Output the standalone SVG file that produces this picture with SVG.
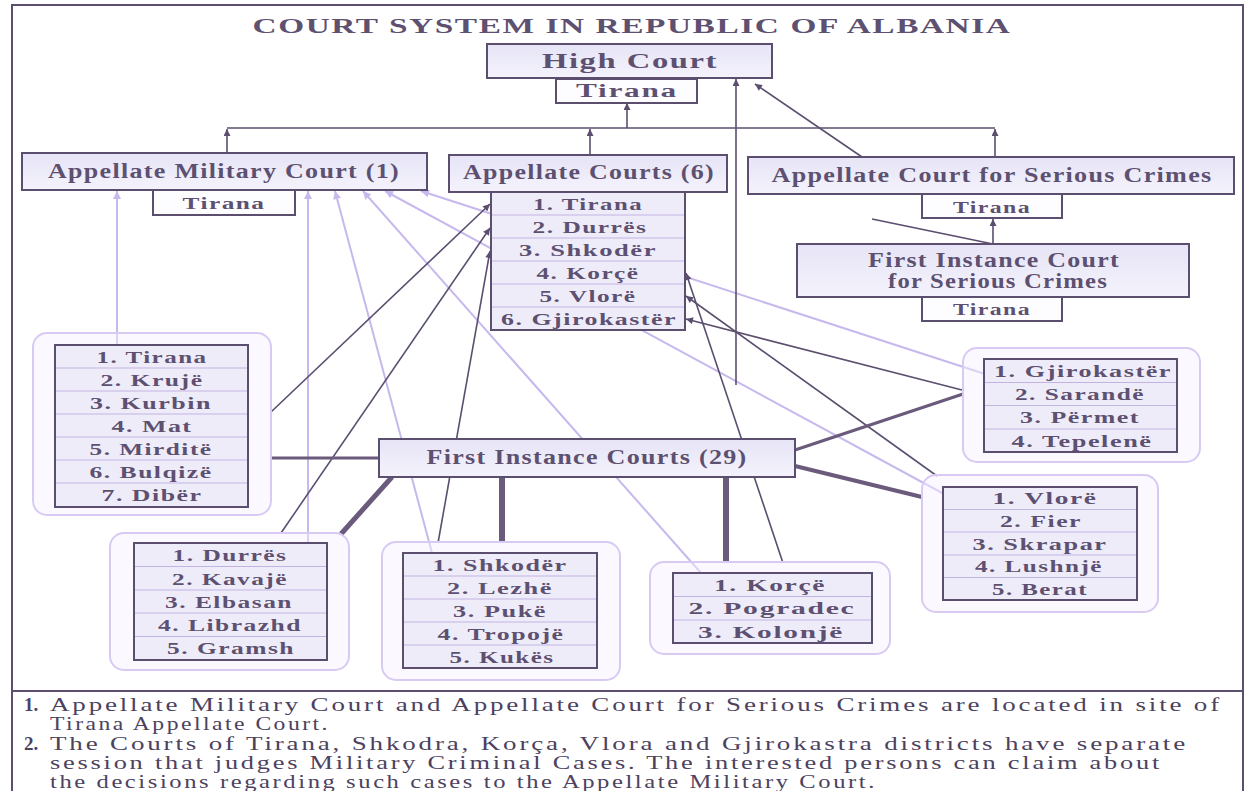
<svg xmlns="http://www.w3.org/2000/svg" width="1249" height="791" viewBox="0 0 1249 791">
<defs>
<style>
.box{fill:url(#bg);stroke:#5b4e6e;stroke-width:2}
.sub{fill:#fdfdff;stroke:#5b4e6e;stroke-width:2}
.tbl{fill:#eeecf9;stroke:none}
.brd{fill:none;stroke:#5b4e6e;stroke-width:2}
.sep{stroke:#c2b4e2;stroke-width:1}
.grp{fill:#f6f2ff;fill-opacity:0.45;stroke:#d8caf3;stroke-width:2}
.t{font-family:"Liberation Serif","Times New Roman",serif;font-weight:bold;fill:#5d5070;text-anchor:middle;letter-spacing:1px}
.r{font-size:17px}
.h{font-size:20px}
.s{font-size:17px}
.fn{font-family:"Liberation Serif","Times New Roman",serif;font-size:19px;fill:#4c4260;letter-spacing:2px}
.fb{font-weight:bold;letter-spacing:0}
.dk{stroke:#5b4e6e;stroke-width:1.6;fill:none}
.th{stroke:#6a5b7d;fill:none}
.pl{stroke:#c7b8ee;stroke-width:2;fill:none}
</style>
<linearGradient id="bg" x1="0" y1="0" x2="0" y2="1">
<stop offset="0" stop-color="#e6e4f6"/>
<stop offset="1" stop-color="#f4f3fc"/>
</linearGradient>
<marker id="ad" viewBox="0 0 10 10" refX="10" refY="5" markerWidth="8" markerHeight="7" markerUnits="userSpaceOnUse" orient="auto">
<path d="M0,0 L10,5 L0,10 z" fill="#5b4e6e"/>
</marker>
<marker id="ap" viewBox="0 0 10 10" refX="10" refY="5" markerWidth="9" markerHeight="8" markerUnits="userSpaceOnUse" orient="auto">
<path d="M0,0 L10,5 L0,10 z" fill="#c7b8ee"/>
</marker>
</defs>

<rect x="0" y="0" width="1249" height="791" fill="#ffffff"/>
<rect x="12" y="5" width="1231" height="800" fill="none" stroke="#5b4e6e" stroke-width="2"/>

<text class="t" x="632" y="33" font-size="21" textLength="759" lengthAdjust="spacingAndGlyphs">COURT SYSTEM IN REPUBLIC OF ALBANIA</text>

<g id="connectors">
<!-- military (pale) -->
<line class="pl" x1="117" y1="345" x2="117" y2="191" marker-end="url(#ap)"/>
<line class="pl" x1="308" y1="543" x2="308" y2="191" marker-end="url(#ap)"/>
<line class="pl" x1="432" y1="553" x2="335" y2="191" stroke-width="3" marker-end="url(#ap)"/>
<line class="pl" x1="701" y1="573" x2="363" y2="191" marker-end="url(#ap)"/>
<line class="pl" x1="944" y1="494" x2="385" y2="191" marker-end="url(#ap)"/>
<line class="pl" x1="985" y1="374" x2="421" y2="191" marker-end="url(#ap)"/>
<!-- to High Court -->
<line class="dk" x1="227" y1="128" x2="995" y2="128"/>
<line class="dk" x1="227" y1="153" x2="227" y2="129" marker-end="url(#ad)"/>
<line class="dk" x1="590" y1="155" x2="590" y2="129" marker-end="url(#ad)"/>
<line class="dk" x1="995" y1="157" x2="995" y2="129" marker-end="url(#ad)"/>
<line class="dk" x1="627" y1="128" x2="627" y2="103" marker-end="url(#ad)"/>
<line class="dk" x1="736" y1="385" x2="736" y2="79" marker-end="url(#ad)"/>
<line class="dk" x1="862" y1="157" x2="755" y2="84" marker-end="url(#ad)"/>
<line class="dk" x1="993" y1="244" x2="993" y2="219" marker-end="url(#ad)"/>
<line class="dk" x1="872" y1="219" x2="993" y2="244"/>
<!-- to Appellate Courts list -->
<line class="dk" x1="271" y1="412" x2="490" y2="204" marker-end="url(#ad)"/>
<line class="dk" x1="281" y1="533" x2="490" y2="228" marker-end="url(#ad)"/>
<line class="dk" x1="438" y1="543" x2="490" y2="251" marker-end="url(#ad)"/>
<line class="dk" x1="783" y1="563" x2="686" y2="273" marker-end="url(#ad)"/>
<line class="dk" x1="937" y1="476" x2="686" y2="296" marker-end="url(#ad)"/>
<line class="dk" x1="962" y1="390" x2="686" y2="319" marker-end="url(#ad)"/>
<!-- First Instance Courts to districts -->
<line class="th" x1="271" y1="458" x2="379" y2="458" stroke-width="3"/>
<line class="th" x1="392" y1="477" x2="341" y2="534" stroke-width="5"/>
<line class="th" x1="502" y1="477" x2="502" y2="542" stroke-width="6"/>
<line class="th" x1="726" y1="477" x2="726" y2="562" stroke-width="6"/>
<line class="th" x1="795" y1="450" x2="963" y2="394" stroke-width="3"/>
<line class="th" x1="795" y1="466" x2="922" y2="497" stroke-width="4"/>
</g>

<g id="high-court">
<rect class="box" x="487" y="44" width="285" height="34"/>
<text class="t" x="630" y="68" font-size="21" textLength="176" lengthAdjust="spacingAndGlyphs">High Court</text>
<rect class="sub" x="556" y="79" width="141" height="24"/>
<text class="t" x="627" y="97" font-size="18" textLength="102" lengthAdjust="spacingAndGlyphs">Tirana</text>
</g>

<g id="appellate-military">
<rect class="box" x="22" y="153" width="405" height="37"/>
<text class="t h" x="224" y="178" textLength="352" lengthAdjust="spacingAndGlyphs">Appellate Military Court (1)</text>
<rect class="sub" x="153" y="190" width="142" height="25"/>
<text class="t s" x="224" y="209" textLength="83" lengthAdjust="spacingAndGlyphs">Tirana</text>
</g>

<g id="appellate-courts">
<rect class="box" x="449" y="155" width="278" height="37"/>
<text class="t h" x="589" y="179" textLength="252" lengthAdjust="spacingAndGlyphs">Appellate Courts (6)</text>
<rect class="tbl" x="491" y="192" width="194" height="138"/>
<line class="sep" x1="491" y1="215" x2="685" y2="215"/>
<line class="sep" x1="491" y1="238" x2="685" y2="238"/>
<line class="sep" x1="491" y1="261" x2="685" y2="261"/>
<line class="sep" x1="491" y1="284" x2="685" y2="284"/>
<line class="sep" x1="491" y1="307" x2="685" y2="307"/>
<rect class="brd" x="491" y="192" width="194" height="138"/>
<text class="t r" x="588" y="209.5" textLength="110" lengthAdjust="spacingAndGlyphs">1. Tirana</text>
<text class="t r" x="590" y="232.5" textLength="115" lengthAdjust="spacingAndGlyphs">2. Durrës</text>
<text class="t r" x="588" y="255.5" textLength="138" lengthAdjust="spacingAndGlyphs">3. Shkodër</text>
<text class="t r" x="588" y="278.5" textLength="103" lengthAdjust="spacingAndGlyphs">4. Korçë</text>
<text class="t r" x="588" y="301.5" textLength="97" lengthAdjust="spacingAndGlyphs">5. Vlorë</text>
<text class="t r" x="589" y="324.5" textLength="176" lengthAdjust="spacingAndGlyphs">6. Gjirokastër</text>
</g>

<g id="appellate-serious-crimes">
<rect class="box" x="748" y="157" width="486" height="37"/>
<text class="t h" x="992" y="182" textLength="441" lengthAdjust="spacingAndGlyphs">Appellate Court for Serious Crimes</text>
<rect class="sub" x="922" y="194" width="140" height="24"/>
<text class="t s" x="992" y="213" textLength="78" lengthAdjust="spacingAndGlyphs">Tirana</text>
</g>

<g id="first-instance-serious-crimes">
<rect class="box" x="797" y="244" width="392" height="53"/>
<text class="t h" x="994" y="267" textLength="252" lengthAdjust="spacingAndGlyphs">First Instance Court</text>
<text class="t h" x="998" y="288" textLength="220" lengthAdjust="spacingAndGlyphs">for Serious Crimes</text>
<rect class="sub" x="922" y="297" width="140" height="24"/>
<text class="t s" x="992" y="315" textLength="78" lengthAdjust="spacingAndGlyphs">Tirana</text>
</g>

<g id="first-instance-courts">
<rect class="box" x="379" y="439" width="416" height="38"/>
<text class="t h" x="587" y="464" textLength="321" lengthAdjust="spacingAndGlyphs">First Instance Courts (29)</text>
</g>

<g id="district-tirana">
<rect class="grp" x="33" y="333" width="238" height="182" rx="14"/>
<rect class="tbl" x="55" y="345" width="193" height="162"/>
<line class="sep" x1="55" y1="368" x2="248" y2="368"/>
<line class="sep" x1="55" y1="391" x2="248" y2="391"/>
<line class="sep" x1="55" y1="414" x2="248" y2="414"/>
<line class="sep" x1="55" y1="437" x2="248" y2="437"/>
<line class="sep" x1="55" y1="460" x2="248" y2="460"/>
<line class="sep" x1="55" y1="483" x2="248" y2="483"/>
<rect class="brd" x="55" y="345" width="193" height="162"/>
<text class="t r" x="152" y="362.5" textLength="111" lengthAdjust="spacingAndGlyphs">1. Tirana</text>
<text class="t r" x="152" y="385.5" textLength="103" lengthAdjust="spacingAndGlyphs">2. Krujë</text>
<text class="t r" x="151" y="408.5" textLength="122" lengthAdjust="spacingAndGlyphs">3. Kurbin</text>
<text class="t r" x="152" y="431.5" textLength="81" lengthAdjust="spacingAndGlyphs">4. Mat</text>
<text class="t r" x="151" y="454.5" textLength="123" lengthAdjust="spacingAndGlyphs">5. Mirditë</text>
<text class="t r" x="151" y="477.5" textLength="123" lengthAdjust="spacingAndGlyphs">6. Bulqizë</text>
<text class="t r" x="152" y="500.5" textLength="101" lengthAdjust="spacingAndGlyphs">7. Dibër</text>
</g>

<g id="district-durres">
<rect class="grp" x="110" y="533" width="239" height="137" rx="14"/>
<rect class="tbl" x="134" y="543" width="193" height="117"/>
<line class="sep" x1="134" y1="566.5" x2="327" y2="566.5"/>
<line class="sep" x1="134" y1="590" x2="327" y2="590"/>
<line class="sep" x1="134" y1="613" x2="327" y2="613"/>
<line class="sep" x1="134" y1="636.5" x2="327" y2="636.5"/>
<rect class="brd" x="134" y="543" width="193" height="117"/>
<text class="t r" x="230" y="561" textLength="115" lengthAdjust="spacingAndGlyphs">1. Durrës</text>
<text class="t r" x="230" y="584.5" textLength="116" lengthAdjust="spacingAndGlyphs">2. Kavajë</text>
<text class="t r" x="229" y="607.5" textLength="128" lengthAdjust="spacingAndGlyphs">3. Elbasan</text>
<text class="t r" x="230" y="631" textLength="144" lengthAdjust="spacingAndGlyphs">4. Librazhd</text>
<text class="t r" x="231" y="654" textLength="128" lengthAdjust="spacingAndGlyphs">5. Gramsh</text>
</g>

<g id="district-shkoder">
<rect class="grp" x="382" y="542" width="238" height="138" rx="14"/>
<rect class="tbl" x="403" y="553" width="194" height="115"/>
<line class="sep" x1="403" y1="576" x2="597" y2="576"/>
<line class="sep" x1="403" y1="599" x2="597" y2="599"/>
<line class="sep" x1="403" y1="622" x2="597" y2="622"/>
<line class="sep" x1="403" y1="645" x2="597" y2="645"/>
<rect class="brd" x="403" y="553" width="194" height="115"/>
<text class="t r" x="500" y="570.5" textLength="135" lengthAdjust="spacingAndGlyphs">1. Shkodër</text>
<text class="t r" x="500" y="593.5" textLength="106" lengthAdjust="spacingAndGlyphs">2. Lezhë</text>
<text class="t r" x="500" y="616.5" textLength="94" lengthAdjust="spacingAndGlyphs">3. Pukë</text>
<text class="t r" x="501" y="639.5" textLength="127" lengthAdjust="spacingAndGlyphs">4. Tropojë</text>
<text class="t r" x="502" y="662.5" textLength="105" lengthAdjust="spacingAndGlyphs">5. Kukës</text>
</g>

<g id="district-korce">
<rect class="grp" x="650" y="562" width="240" height="92" rx="14"/>
<rect class="tbl" x="673" y="573" width="199" height="70"/>
<line class="sep" x1="673" y1="596.5" x2="872" y2="596.5"/>
<line class="sep" x1="673" y1="620" x2="872" y2="620"/>
<rect class="brd" x="673" y="573" width="199" height="70"/>
<text class="t r" x="770" y="590.5" textLength="112" lengthAdjust="spacingAndGlyphs">1. Korçë</text>
<text class="t r" x="772" y="614" textLength="167" lengthAdjust="spacingAndGlyphs">2. Pogradec</text>
<text class="t r" x="771" y="637.5" textLength="146" lengthAdjust="spacingAndGlyphs">3. Kolonjë</text>
</g>

<g id="district-vlore">
<rect class="grp" x="922" y="475" width="236" height="137" rx="14"/>
<rect class="tbl" x="943" y="487" width="194" height="113"/>
<line class="sep" x1="943" y1="509.5" x2="1137" y2="509.5"/>
<line class="sep" x1="943" y1="532" x2="1137" y2="532"/>
<line class="sep" x1="943" y1="555" x2="1137" y2="555"/>
<line class="sep" x1="943" y1="577.5" x2="1137" y2="577.5"/>
<rect class="brd" x="943" y="487" width="194" height="113"/>
<text class="t r" x="1045" y="504" textLength="105" lengthAdjust="spacingAndGlyphs">1. Vlorë</text>
<text class="t r" x="1041" y="527" textLength="82" lengthAdjust="spacingAndGlyphs">2. Fier</text>
<text class="t r" x="1040" y="549.5" textLength="135" lengthAdjust="spacingAndGlyphs">3. Skrapar</text>
<text class="t r" x="1039" y="572" textLength="128" lengthAdjust="spacingAndGlyphs">4. Lushnjë</text>
<text class="t r" x="1040" y="594.5" textLength="96" lengthAdjust="spacingAndGlyphs">5. Berat</text>
</g>

<g id="district-gjirokaster">
<rect class="grp" x="963" y="348" width="237" height="114" rx="14"/>
<rect class="tbl" x="984" y="359" width="193" height="93"/>
<line class="sep" x1="984" y1="382.5" x2="1177" y2="382.5"/>
<line class="sep" x1="984" y1="405.5" x2="1177" y2="405.5"/>
<line class="sep" x1="984" y1="429" x2="1177" y2="429"/>
<rect class="brd" x="984" y="359" width="193" height="93"/>
<text class="t r" x="1083" y="376.5" textLength="178" lengthAdjust="spacingAndGlyphs">1. Gjirokastër</text>
<text class="t r" x="1080" y="400" textLength="130" lengthAdjust="spacingAndGlyphs">2. Sarandë</text>
<text class="t r" x="1080" y="423" textLength="120" lengthAdjust="spacingAndGlyphs">3. Përmet</text>
<text class="t r" x="1082" y="446.5" textLength="141" lengthAdjust="spacingAndGlyphs">4. Tepelenë</text>
</g>

<g id="footnotes">
<line x1="12" y1="691" x2="1243" y2="691" stroke="#5b4e6e" stroke-width="2"/>
<text class="fn fb" x="24" y="711">1.</text>
<text class="fn" x="50" y="711" textLength="1172" lengthAdjust="spacingAndGlyphs">Appellate Military Court and Appellate Court for Serious Crimes are located in site of</text>
<text class="fn" x="50" y="730" textLength="280" lengthAdjust="spacingAndGlyphs">Tirana Appellate Court.</text>
<text class="fn fb" x="24" y="750">2.</text>
<text class="fn" x="50" y="750" textLength="1138" lengthAdjust="spacingAndGlyphs">The Courts of Tirana, Shkodra, Korça, Vlora and Gjirokastra districts have separate</text>
<text class="fn" x="50" y="769" textLength="1112" lengthAdjust="spacingAndGlyphs">session that judges Military Criminal Cases. The interested persons can claim about</text>
<text class="fn" x="50" y="788" textLength="827" lengthAdjust="spacingAndGlyphs">the decisions regarding such cases to the Appellate Military Court.</text>
</g>
</svg>
